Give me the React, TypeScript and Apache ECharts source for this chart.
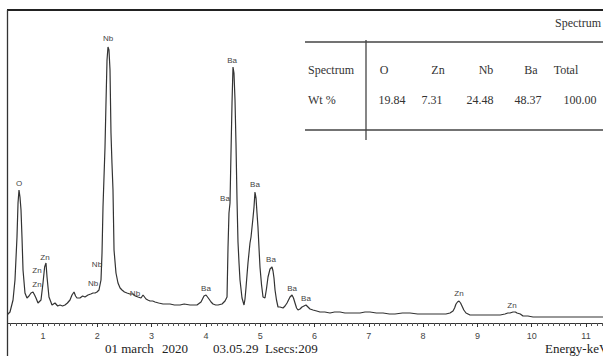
import { useEffect, useRef } from "react";
import * as echarts from "echarts";

// Spectrum: energy (keV) and counts (arbitrary units)
const energyKeV = [
  0.337, 0.392, 0.448, 0.484, 0.521, 0.54, 0.558, 0.576, 0.595, 0.613, 0.632, 0.668, 0.705, 0.742,
  0.779, 0.816, 0.845, 0.871, 0.908, 0.963, 1.0, 1.03, 1.055, 1.074, 1.11, 1.166, 1.221, 1.27, 1.313,
  1.36, 1.405, 1.45, 1.497, 1.534, 1.571, 1.6, 1.626, 1.681, 1.73, 1.773, 1.829, 1.88, 1.921, 1.96,
  1.994, 2.031, 2.068, 2.087, 2.105, 2.142, 2.16, 2.179, 2.197, 2.215, 2.234, 2.252, 2.27, 2.289,
  2.308, 2.344, 2.381, 2.42, 2.455, 2.5, 2.547, 2.6, 2.657, 2.7, 2.75, 2.805, 2.842, 2.87, 2.897,
  2.93, 2.971, 3.02, 3.063, 3.13, 3.21, 3.28, 3.339, 3.42, 3.523, 3.6, 3.707, 3.77, 3.836, 3.91,
  3.965, 4.002, 4.03, 4.057, 4.095, 4.131, 4.18, 4.223, 4.297, 4.352, 4.389, 4.407, 4.425, 4.444,
  4.462, 4.481, 4.499, 4.517, 4.536, 4.554, 4.573, 4.591, 4.61, 4.628, 4.665, 4.702, 4.72, 4.738,
  4.757, 4.775, 4.812, 4.831, 4.867, 4.886, 4.904, 4.923, 4.941, 4.959, 4.978, 4.996, 5.025, 5.052,
  5.088, 5.115, 5.144, 5.181, 5.217, 5.236, 5.254, 5.273, 5.3, 5.328, 5.365, 5.42, 5.457, 5.494,
  5.549, 5.586, 5.613, 5.641, 5.67, 5.696, 5.733, 5.77, 5.843, 5.88, 5.917, 5.972, 6.04, 6.101,
  6.19, 6.285, 6.37, 6.47, 6.56, 6.654, 6.75, 6.838, 6.93, 7.022, 7.14, 7.262, 7.38, 7.483, 7.62,
  7.759, 7.9, 8.035, 8.17, 8.311, 8.42, 8.495, 8.551, 8.58, 8.606, 8.633, 8.661, 8.69, 8.716, 8.75,
  8.79, 8.864, 8.98, 9.103, 9.22, 9.324, 9.42, 9.508, 9.56, 9.6, 9.656, 9.7, 9.729, 9.79, 9.84, 9.93,
  10.024, 10.18, 10.337, 10.52, 10.705, 10.89, 11.074, 11.2, 11.313,
];
const counts = [
  8, 11, 23, 43, 86, 120, 133, 126, 113, 86, 53, 30, 25, 27,
  30, 31, 28, 25, 20, 23, 40, 56, 60, 46, 26, 18, 20, 17, 18,
  17, 18, 20, 23, 28, 31, 27, 25, 25, 27, 26, 28, 29, 30, 30,
  31, 33, 43, 70, 116, 176, 220, 263, 276, 273, 253, 190, 160, 133,
  73, 50, 40, 35, 33, 31, 30, 29, 29, 27, 26, 25, 28, 26, 24,
  23, 22, 22, 21, 20, 19, 19, 19, 18, 18, 19, 18, 18, 18, 21,
  27, 28, 26, 24, 21, 19, 18, 18, 19, 22, 26, 75, 110, 120,
  170, 220, 256, 250, 223, 180, 123, 81, 60, 43, 25, 18, 24, 35,
  48, 60, 80, 86, 105, 116, 131, 125, 110, 96, 75, 56, 38, 26,
  25, 34, 46, 54, 56, 52, 45, 33, 23, 16, 16, 15, 17, 20,
  26, 28, 25, 20, 15, 13, 14, 16, 18, 16, 14, 13, 12, 11,
  11, 10, 11, 11, 10, 10, 10, 10, 11, 11, 10, 10, 9, 9, 10,
  10, 9, 9, 9, 9, 9, 10, 12, 15, 19, 21, 22, 20, 17, 13,
  10, 8, 8, 8, 8, 8, 8, 9, 10, 10, 11, 11, 10, 9, 7, 7,
  6, 6, 6, 6, 6, 6, 6, 6, 6,
];

// Peak identification labels
const peakNames = ["O", "Zn", "Zn", "Zn", "Nb", "Nb", "Nb", "Nb", "Ba", "Ba", "Ba", "Ba", "Ba", "Ba", "Ba", "Zn", "Zn"];
const peakEnergy = [0.558, 1.037, 0.89, 0.89, 1.994, 1.921, 2.197, 2.694, 4.002, 4.481, 4.352, 4.904, 5.199, 5.586, 5.843, 8.661, 9.637];
const peakCount = [140, 66, 53, 39, 59, 40, 285, 30, 35, 263, 125, 139, 64, 35, 25, 30, 18];

// x axis tick labels
const tickLabels = ["1", "2", "3", "4", "5", "6", "7", "8", "9", "10", "11"];

// Results table
const tableTitle = "Spectrum";
const tableHeader = ["Spectrum", "O", "Zn", "Nb", "Ba", "Total"];
const tableRow = ["Wt %", "19.84", "7.31", "24.48", "48.37", "100.00"];

// Footer
const footerTexts = ["01 march", "2020", "03.05.29", "Lsecs:209"];
const axisTitle = "Energy-keV";

const SERIF = '"Liberation Serif", "Times New Roman", serif';
const SANS = '"Liberation Sans", Arial, sans-serif';
const INK = "#333";
const OX = 20; // inner canvas is shifted left by this many px

export default function App() {
  const ref = useRef<HTMLDivElement>(null);
  useEffect(() => {
    const chart = echarts.init(ref.current!, null, { renderer: "svg" });

    chart.setOption({
      animation: false,
      backgroundColor: "#fff",
      grid: { left: 8.7, right: 19.7, top: 10, bottom: 33, containLabel: false },
      xAxis: {
        type: "value",
        min: 0,
        max: 12,
        interval: 1,
        axisLine: { show: true, lineStyle: { color: INK, width: 1 } },
        axisTick: { show: true, length: 4, lineStyle: { color: INK } },
        minorTick: { show: true, splitNumber: 10, length: 3, lineStyle: { color: "#555" } },
        splitLine: { show: false },
        axisLabel: {
          margin: 8,
          fontSize: 9,
          fontFamily: SANS,
          color: "#444",
          formatter: (v: number) => {
            const s = String(Math.round(v));
            return tickLabels.includes(s) ? s : "";
          },
        },
      },
      yAxis: { type: "value", min: 0, max: 313, show: false, splitLine: { show: false } },
      series: [
        {
          type: "line",
          data: energyKeV.map((e, i) => [e, counts[i]]),
          showSymbol: false,
          symbol: "none",
          lineStyle: { color: INK, width: 1.2 },
          silent: true,
        },
      ],
    });

    const headerX = [308, 384, 438, 486, 531, 566];
    const rowX = [308, 392, 432, 480, 528, 580];
    const footerX = [105, 162, 213, 265];

    const peakTexts = peakNames.map((n, i) => {
      const p = chart.convertToPixel({ gridIndex: 0 }, [peakEnergy[i], peakCount[i]]) as number[];
      return {
        type: "text", x: p[0], y: p[1], z: 50,
        style: { text: n, font: `8px ${SANS}`, fill: "#444", textAlign: "center", textVerticalAlign: "middle" },
      };
    });

    const graphic: any[] = [
      ...peakTexts,
      { type: "rect", shape: { x: 0, y: 300, width: 7 + OX, height: 56 }, style: { fill: "#fff" }, z: 100 },
      { type: "line", shape: { x1: 7 + OX, y1: 10, x2: 603 + OX, y2: 10 }, style: { stroke: "#222", lineWidth: 2 }, z: 101 },
      { type: "line", shape: { x1: 7.5 + OX, y1: 10, x2: 7.5 + OX, y2: 356 }, style: { stroke: "#333", lineWidth: 1.3 }, z: 101 },
      { type: "line", shape: { x1: 305 + OX, y1: 42, x2: 603 + OX, y2: 42 }, style: { stroke: "#444", lineWidth: 1.3 }, z: 101 },
      { type: "line", shape: { x1: 305 + OX, y1: 130, x2: 603 + OX, y2: 130 }, style: { stroke: "#444", lineWidth: 1.3 }, z: 101 },
      { type: "line", shape: { x1: 366 + OX, y1: 40, x2: 366 + OX, y2: 140 }, style: { stroke: "#444", lineWidth: 1.3 }, z: 101 },
      {
        type: "text", x: 601 + OX, y: 23, z: 101,
        style: { text: tableTitle, font: `12px ${SERIF}`, fill: INK, textAlign: "right", textVerticalAlign: "middle" },
      },
      ...tableHeader.map((t, i) => ({
        type: "text", x: headerX[i] + OX, y: 70, z: 101,
        style: { text: t, font: `12px ${SERIF}`, fill: INK, textAlign: i === 0 ? "left" : "center", textVerticalAlign: "middle" },
      })),
      ...tableRow.map((t, i) => ({
        type: "text", x: rowX[i] + OX, y: 100, z: 101,
        style: { text: t, font: `12px ${SERIF}`, fill: INK, textAlign: i === 0 ? "left" : "center", textVerticalAlign: "middle" },
      })),
      ...footerTexts.map((t, i) => ({
        type: "text", x: footerX[i] + OX, y: 348, z: 101,
        style: { text: t, font: `13px ${SERIF}`, fill: "#222", textAlign: "left", textVerticalAlign: "middle" },
      })),
      {
        type: "text", x: 545 + OX, y: 348, z: 101,
        style: { text: axisTitle, font: `13px ${SERIF}`, fill: "#222", textAlign: "left", textVerticalAlign: "middle" },
      },
    ];
    chart.setOption({ graphic });
    return () => chart.dispose();
  }, []);
  return (
    <div style={{ position: "absolute", left: 0, top: 0, width: 603, height: 356, overflow: "hidden", background: "#fff" }}>
      <div
        ref={ref}
        style={{ position: "absolute", left: -OX, top: 0, width: 680, height: 356, background: "#fff" }}
      />
    </div>
  );
}
